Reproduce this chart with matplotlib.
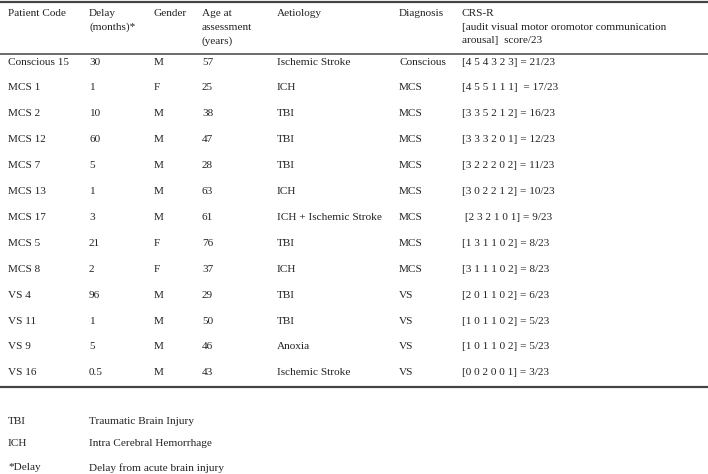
import matplotlib.pyplot as plt

# ------------------------------
# Table content
# ------------------------------
headers = [
    "Patient Code",
    "Delay\n(months)*",
    "Gender",
    "Age at\nassessment\n(years)",
    "Aetiology",
    "Diagnosis",
    "CRS-R\n[audit visual motor oromotor communication\narousal]  score/23",
]

patient_code = ["Conscious 15", "MCS 1", "MCS 2", "MCS 12", "MCS 7", "MCS 13", "MCS 17",
                "MCS 5", "MCS 8", "VS 4", "VS 11", "VS 9", "VS 16"]
delay = ["30", "1", "10", "60", "5", "1", "3", "21", "2", "96", "1", "5", "0.5"]
gender = ["M", "F", "M", "M", "M", "M", "M", "F", "F", "M", "M", "M", "M"]
age = ["57", "25", "38", "47", "28", "63", "61", "76", "37", "29", "50", "46", "43"]
aetiology = ["Ischemic Stroke", "ICH", "TBI", "TBI", "TBI", "ICH", "ICH + Ischemic Stroke",
             "TBI", "ICH", "TBI", "TBI", "Anoxia", "Ischemic Stroke"]
diagnosis = ["Conscious", "MCS", "MCS", "MCS", "MCS", "MCS", "MCS",
             "MCS", "MCS", "VS", "VS", "VS", "VS"]
crs_r = ["[4 5 4 3 2 3] = 21/23", "[4 5 5 1 1 1]  = 17/23", "[3 3 5 2 1 2] = 16/23",
         "[3 3 3 2 0 1] = 12/23", "[3 2 2 2 0 2] = 11/23", "[3 0 2 2 1 2] = 10/23",
         " [2 3 2 1 0 1] = 9/23", "[1 3 1 1 0 2] = 8/23", "[3 1 1 1 0 2] = 8/23",
         "[2 0 1 1 0 2] = 6/23", "[1 0 1 1 0 2] = 5/23", "[1 0 1 1 0 2] = 5/23",
         "[0 0 2 0 0 1] = 3/23"]

abbrev = ["TBI", "ICH", "*Delay"]
abbrev_text = ["Traumatic Brain Injury", "Intra Cerebral Hemorrhage", "Delay from acute brain injury"]

columns = [patient_code, delay, gender, age, aetiology, diagnosis, crs_r]

# ------------------------------
# Layout (pixel space)
# ------------------------------
W, H = 708, 474
col_x = [8, 89, 154, 202, 277, 399, 462]
header_y = 9
row_y0 = 62
row_step = 25.9
foot_y = [421, 443, 468]
foot_x = [8, 89]

plt.rcParams["font.family"] = ["Liberation Serif", "DejaVu Serif"]
fs = 8.1
ink = "#222222"

fig = plt.figure(figsize=(W / 100, H / 100), dpi=100)
ax = fig.add_axes([0, 0, 1, 1])
ax.set_xlim(0, W)
ax.set_ylim(H, 0)
ax.axis("off")

# rules
ax.plot([0, W], [2, 2], color="#444444", lw=1.6)
ax.plot([0, W], [54, 54], color="#444444", lw=1.1)
ax.plot([0, W], [387, 387], color="#444444", lw=1.6)

for x, h in zip(col_x, headers):
    ax.text(x, header_y, h, fontsize=fs, color=ink, va="top", ha="left", linespacing=1.65)

for x, col in zip(col_x, columns):
    for i, val in enumerate(col):
        ax.text(x, row_y0 + i * row_step, val, fontsize=fs, color=ink, va="center", ha="left")

for y, a, t in zip(foot_y, abbrev, abbrev_text):
    ax.text(foot_x[0], y, a, fontsize=fs, color=ink, va="center", ha="left")
    ax.text(foot_x[1], y, t, fontsize=fs, color=ink, va="center", ha="left")

fig.savefig("out.png", dpi=100, facecolor="white")
